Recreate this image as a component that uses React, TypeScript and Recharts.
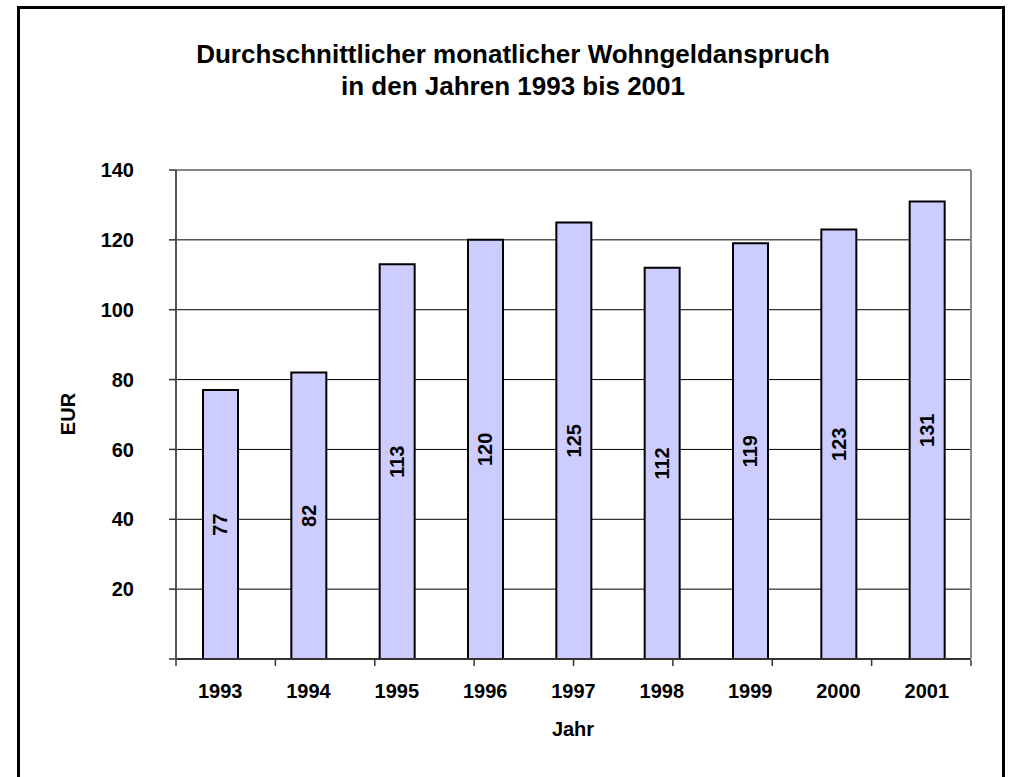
import { BarChart, Bar, XAxis, YAxis, CartesianGrid, LabelList, ReferenceLine } from 'recharts'

const years = ['1993', '1994', '1995', '1996', '1997', '1998', '1999', '2000', '2001']
const amounts = [77, 82, 113, 120, 125, 112, 119, 123, 131]
const yTicks = [0, 20, 40, 60, 80, 100, 120, 140]
const bandTicks = [0, 1, 2, 3, 4, 5, 6, 7, 8, 9]

const font = '"Liberation Sans", Arial, sans-serif'

const chartData = years.map((y, i) => ({ year: y, value: amounts[i] }))

function BarValue(props: any) {
  const vb = props.viewBox ?? props
  const { x, y, width, height } = vb
  const cx = x + width / 2
  const cy = y + height / 2
  return (
    <text
      x={cx}
      y={cy}
      transform={`rotate(-90, ${cx}, ${cy})`}
      textAnchor="middle"
      dominantBaseline="central"
      fontFamily={font}
      fontWeight="bold"
      fontSize={20}
      fill="#000"
    >
      {props.value}
    </text>
  )
}

const NoLabel = () => <g />

export default function App() {
  return (
    <div style={{ position: 'absolute', left: 0, top: 0, width: 1012, height: 777, overflow: 'hidden', background: '#fff' }}>
      <div style={{ position: 'absolute', left: 17, top: 6, width: 988, height: 820, border: '3px solid #000', boxSizing: 'border-box' }} />
      <div style={{ position: 'absolute', left: 0, top: 0 }}>
        <BarChart
          width={1012}
          height={777}
          data={chartData}
          margin={{ top: 170, right: 40, bottom: 116, left: 116 }}
          barSize={35}
        >
          <CartesianGrid vertical={false} stroke="#000" strokeWidth={1} />
          <XAxis
            dataKey="year"
            height={1}
            tickLine={false}
            tickSize={6}
            tickMargin={19}
            axisLine={{ stroke: '#333', strokeWidth: 2 }}
            tick={{ fontFamily: font, fontWeight: 'bold', fontSize: 20, fill: '#000' }}
            interval={0}
          />
          <XAxis
            xAxisId="tk"
            type="number"
            domain={[0, 9]}
            ticks={bandTicks}
            height={1}
            axisLine={false}
            tick={NoLabel}
            tickSize={6}
            tickLine={{ stroke: '#333', strokeWidth: 1.5 }}
            interval={0}
          />
          <YAxis
            width={60}
            domain={[0, 140]}
            ticks={yTicks}
            interval={0}
            tickSize={7}
            tickMargin={35}
            tickFormatter={(v: number) => (v === 0 ? '' : String(v))}
            axisLine={{ stroke: '#555', strokeWidth: 2 }}
            tickLine={{ stroke: '#333', strokeWidth: 1.5 }}
            tick={{ fontFamily: font, fontWeight: 'bold', fontSize: 20, fill: '#000' }}
          />
          <YAxis
            yAxisId="r"
            orientation="right"
            width={1}
            domain={[0, 140]}
            tick={false}
            tickLine={false}
            axisLine={{ stroke: '#888', strokeWidth: 2 }}
          />
          <ReferenceLine y={140} stroke="#888" strokeWidth={2} />
          <Bar dataKey="value" fill="#CCCCFF" stroke="#000" strokeWidth={2} isAnimationActive={false}>
            <LabelList dataKey="value" content={BarValue} />
          </Bar>
        </BarChart>
      </div>
      <svg width={1012} height={777} style={{ position: 'absolute', left: 0, top: 0, pointerEvents: 'none' }}>
        <text x={513} y={63} textAnchor="middle" fontFamily={font} fontWeight="bold" fontSize={26} fill="#000">
          Durchschnittlicher monatlicher Wohngeldanspruch
        </text>
        <text x={513} y={95} textAnchor="middle" fontFamily={font} fontWeight="bold" fontSize={26} fill="#000">
          in den Jahren 1993 bis 2001
        </text>
        <text
          x={75}
          y={414}
          transform="rotate(-90, 75, 414)"
          textAnchor="middle"
          fontFamily={font}
          fontWeight="bold"
          fontSize={20}
          fill="#000"
        >
          EUR
        </text>
        <text x={573} y={736} textAnchor="middle" fontFamily={font} fontWeight="bold" fontSize={20} fill="#000">
          Jahr
        </text>
      </svg>
    </div>
  )
}
